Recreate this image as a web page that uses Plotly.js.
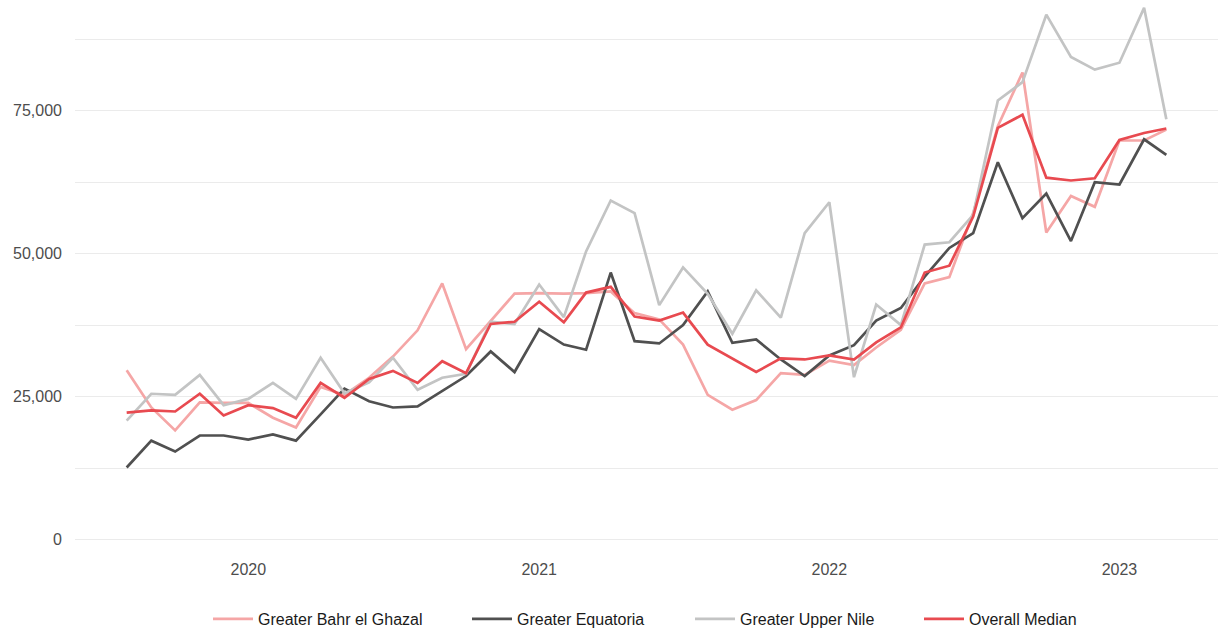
<!DOCTYPE html>
<html>
<head>
<meta charset="utf-8">
<script src="https://cdn.plot.ly/plotly-3.0.1.min.js"></script>
<style>html,body{margin:0;padding:0;background:#fff;}#chart{width:1225px;height:630px;}</style>
</head>
<body>
<div id="chart"></div>
<script>
const months = [
  "2019-08-01","2019-09-01","2019-10-01","2019-11-01","2019-12-01",
  "2020-01-01","2020-02-01","2020-03-01","2020-04-01","2020-05-01","2020-06-01",
  "2020-07-01","2020-08-01","2020-09-01","2020-10-01","2020-11-01","2020-12-01",
  "2021-01-01","2021-02-01","2021-03-01","2021-04-01","2021-05-01","2021-06-01",
  "2021-07-01","2021-08-01","2021-09-01","2021-10-01","2021-11-01","2021-12-01",
  "2022-01-01","2022-02-01","2022-03-01","2022-04-01","2022-05-01","2022-06-01",
  "2022-07-01","2022-08-01","2022-09-01","2022-10-01","2022-11-01","2022-12-01",
  "2023-01-01","2023-02-01","2023-03-01"
];

const seriesNames = ["Greater Bahr el Ghazal","Greater Equatoria","Greater Upper Nile","Overall Median"];

const bahrElGhazal = [
  29600,23100,19100,24000,23900,
  23900,21300,19600,26700,25300,28300,
  32000,36600,44800,33300,38200,43000,
  43100,43000,43100,43400,39600,38500,
  34100,25300,22700,24400,29100,28800,
  31300,30500,33600,36700,44800,45900,
  57100,72300,81700,53700,60100,58200,
  69800,69800,71700
];

const equatoria = [
  12600,17300,15400,18200,18200,
  17500,18400,17300,21900,26400,24200,
  23100,23300,26000,28600,32900,29300,
  36800,34100,33200,46700,34700,34300,
  37500,43400,34400,35000,31500,28600,
  32200,34000,38300,40500,46000,51000,
  53600,66000,56200,60500,52200,62500,
  62100,70000,67300
];

const upperNile = [
  20800,25500,25300,28800,23500,
  24600,27400,24600,31800,25600,27500,
  31800,26200,28300,29000,38100,37700,
  44600,38900,50400,59300,57100,41000,
  47600,43000,36000,43600,38800,53600,
  59000,28400,41100,37500,51600,52000,
  56800,76800,80000,91800,84400,82200,
  83400,93000,73500
];

const overallMedian = [
  22200,22600,22400,25500,21700,
  23500,23000,21300,27400,24800,28100,
  29500,27400,31200,29100,37700,38100,
  41600,38000,43200,44200,39000,38300,
  39700,34100,31700,29300,31700,31500,
  32200,31500,34500,37100,46700,47900,
  56500,72000,74300,63300,62800,63200,
  69900,71100,71900
];

const yTickVals = [0, 25000, 50000, 75000];
const yTickText = ["0", "25,000", "50,000", "75,000"];
const xTickVals = ["2020-01-01","2021-01-01","2022-01-01","2023-01-01"];
const xTickText = ["2020","2021","2022","2023"];

const colors = ["#F5A6A6", "#505050", "#C3C4C4", "#E84A50"];
const values = [bahrElGhazal, equatoria, upperNile, overallMedian];
const legendIds = ["legend", "legend2", "legend3", "legend4"];
const legendTextStart = [258, 517, 740, 969];

const traces = seriesNames.map((name, i) => ({
  type: "scatter",
  mode: "lines",
  name: name,
  x: months,
  y: values[i],
  legend: legendIds[i],
  line: {color: colors[i], width: 2.7},
  hoverinfo: "x+y+name"
}));

const fontFam = "'Liberation Sans', Arial, sans-serif";
const tickFont = {family: fontFam, size: 16, color: "#4d4d4d"};

const layout = {
  width: 1225,
  height: 630,
  margin: {l: 75, r: 7, t: 0, b: 79},
  paper_bgcolor: "#ffffff",
  plot_bgcolor: "#ffffff",
  showlegend: true,
  xaxis: {
    type: "date",
    range: ["2019-05-28", "2023-05-05"],
    tickvals: xTickVals,
    ticktext: xTickText,
    showgrid: false,
    zeroline: false,
    showline: false,
    ticks: "",
    tickfont: tickFont,
    ticklabelstandoff: 7
  },
  yaxis: {
    range: [-2000, 94370],
    tickvals: yTickVals,
    ticktext: yTickText,
    showgrid: true,
    gridcolor: "#ebebeb",
    gridwidth: 1.2,
    zeroline: false,
    showline: false,
    ticks: "",
    tickfont: tickFont,
    ticklabelstandoff: 12,
    minor: {dtick: 12500, tick0: 0, showgrid: true, gridcolor: "#ebebeb", gridwidth: 1.2, ticks: ""}
  }
};

legendIds.forEach((id, i) => {
  layout[id] = {
    orientation: "h",
    xref: "container", yref: "container",
    x: (legendTextStart[i] - 50) / 1225, xanchor: "left",
    y: 11 / 630, yanchor: "middle",
    font: {family: fontFam, size: 16, color: "#1a1a1a"},
    itemwidth: 40,
    bgcolor: "rgba(0,0,0,0)"
  };
});

Plotly.newPlot("chart", traces, layout, {displayModeBar: false, staticPlot: true});
</script>
</body>
</html>
